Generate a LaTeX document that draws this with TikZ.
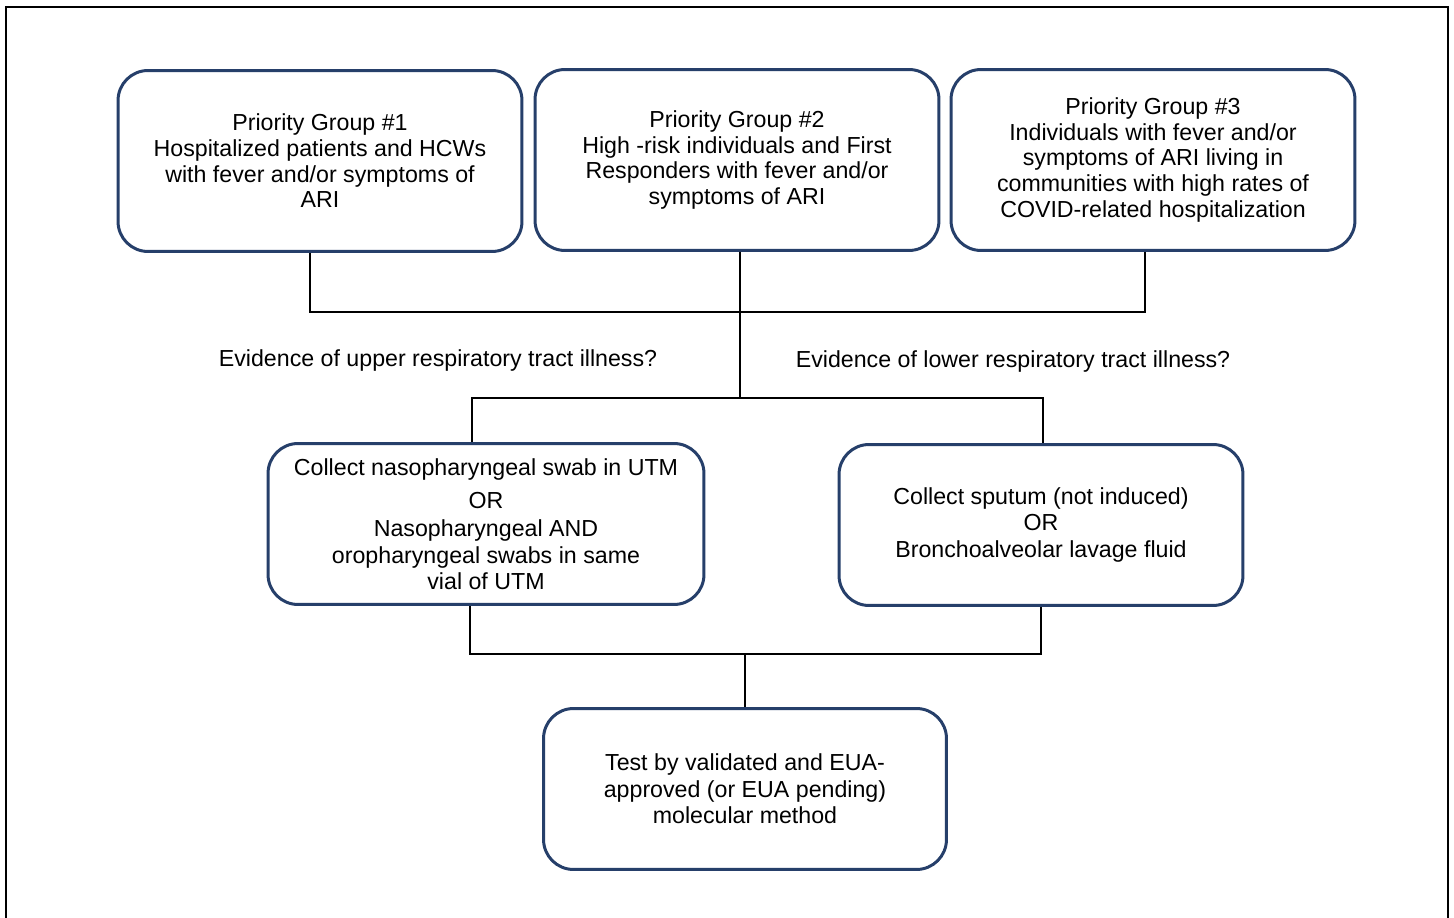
\documentclass[tikz,border=0pt]{standalone}
\usepackage{fontspec}
\setmainfont{Liberation Sans}
\usetikzlibrary{positioning}
\definecolor{boxblue}{HTML}{263F6A}

\begin{document}
\begin{tikzpicture}[
	x=0.02cm, y=-0.02cm,
	group/.style={draw=boxblue, line width=1.7pt, rounded corners=0.6cm, fill=white,
		minimum width=8.08cm, minimum height=3.62cm, align=center,
		font=\fontsize{13.2}{14.6}\selectfont},
	sample/.style={group, minimum width=8.5cm, minimum height=3.22cm,
		font=\fontsize{13.2}{15}\selectfont},
	ask/.style={font=\fontsize{13.2}{14.6}\selectfont},
	link/.style={line width=1pt}
	]
	\useasboundingbox (0,0) rectangle (1454,918);
	\draw[line width=1.2pt] (6,930) -- (6,7) -- (1448,7) -- (1448,930);

	% Nodes
	\node[group] (PG1) at (320,161) {Priority Group \#1\\Hospitalized patients and HCWs\\with fever and/or symptoms of\\ARI};
	\node[group] (PG2) at (737,160) {Priority Group \#2\\High -risk individuals and First\\Responders with fever and/or\\symptoms of  ARI};
	\node[group] (PG3) at (1153,160) {Priority Group \#3\\Individuals with fever and/or\\symptoms of ARI living in\\communities with high rates of\\COVID-related hospitalization};

	\node[ask] (Upper) at (438,361) {Evidence of upper respiratory tract illness?};
	\node[ask] (Lower) at (1013,362) {Evidence of  lower  respiratory tract illness?};

	\node[sample, minimum width=8.72cm] (NPswab) at (486,524) {Collect nasopharyngeal swab in UTM\\[4pt]OR\\[1pt]Nasopharyngeal AND\\oropharyngeal swabs in same\\vial of UTM};
	\node[sample, minimum width=8.08cm] (Sputum) at (1041,525) {Collect sputum (not induced)\\OR\\Bronchoalveolar lavage fluid};

	\node[sample, minimum width=8.06cm] (Test) at (745,789) {Test by validated and EUA-\\approved (or EUA pending)\\molecular method};

	% Junctions
	\coordinate (J1) at (740,312);
	\coordinate (J2) at (740,398);
	\coordinate (J3) at (745,654);

	% Edges
	\draw[link] ([xshift=-0.2cm]PG1.south) |- (J1);
	\draw[link] ([xshift=-0.16cm]PG3.south) |- (J1);
	\draw[link] ([xshift=0.06cm]PG2.south) -- (J2);
	\draw[link] (J2) -| ([xshift=-0.28cm]NPswab.north);
	\draw[link] (J2) -| ([xshift=0.04cm]Sputum.north);
	\draw[link] ([xshift=-0.32cm]NPswab.south) |- (J3);
	\draw[link] (Sputum.south) |- (J3);
	\draw[link] (J3) -- (Test.north);
\end{tikzpicture}
\end{document}
